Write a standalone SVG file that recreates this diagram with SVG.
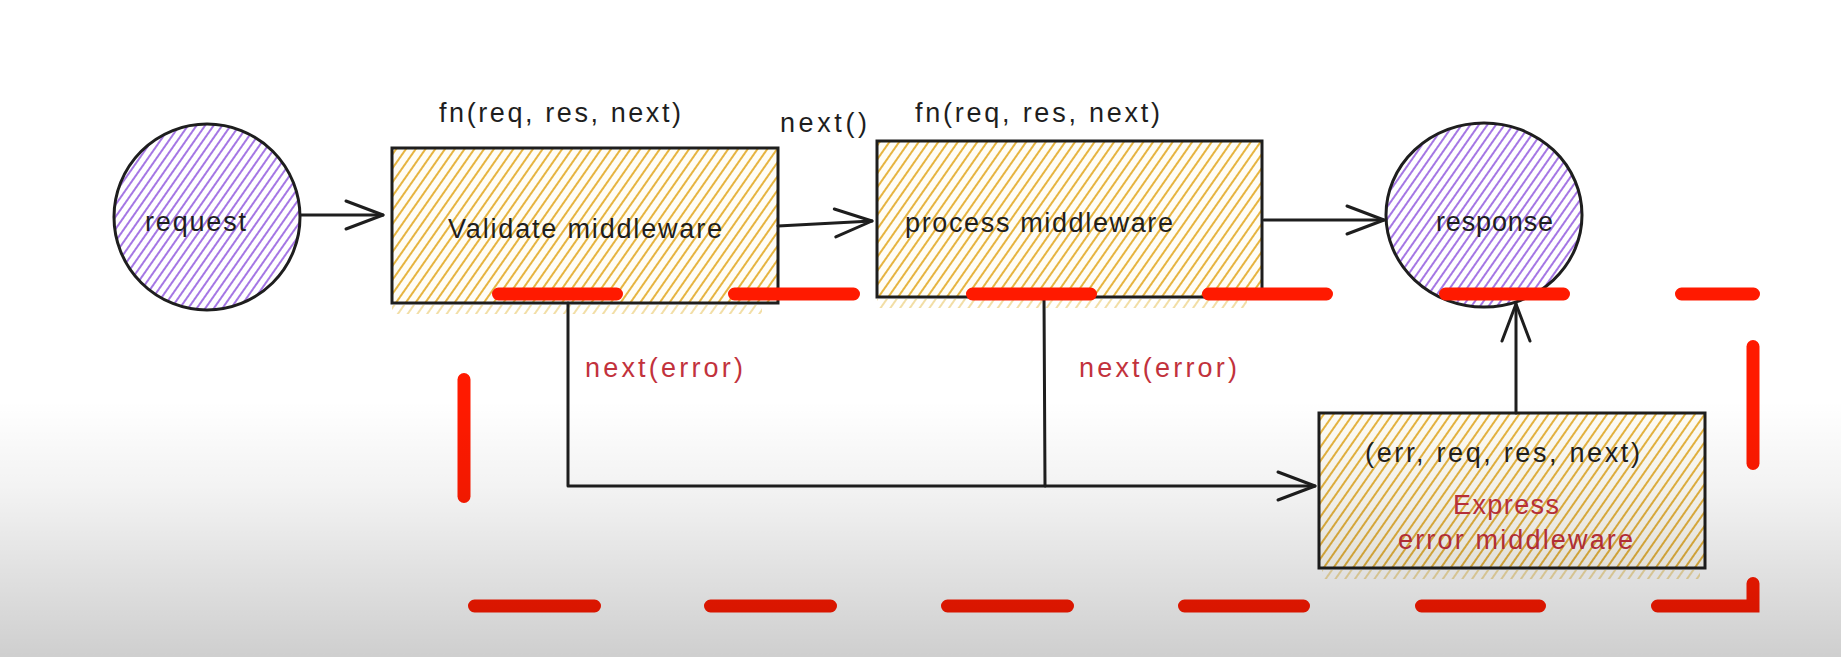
<svg xmlns="http://www.w3.org/2000/svg" width="1841" height="657" viewBox="0 0 1841 657">
  <style>
    .lbl { font-family: "Liberation Sans", "DejaVu Sans", sans-serif; font-size: 27px; fill: #1e1e1e; dominant-baseline: central; }
    .red { fill: #c2323c; }
    .box { stroke: #1e1e1e; stroke-width: 3; }
    .ell { stroke: #1e1e1e; stroke-width: 3; }
    .conn { fill: none; stroke: #1e1e1e; stroke-width: 3; stroke-linecap: round; stroke-linejoin: round; }
    .dash { fill: none; stroke: #ff1a00; stroke-width: 13; stroke-linecap: round; }
  </style>
  <defs>
    <pattern id="hatchY" width="8" height="8" patternUnits="userSpaceOnUse" patternTransform="rotate(35)">
      <rect width="8" height="8" fill="#fffdf6"/>
      <line x1="2" y1="0" x2="2" y2="8" stroke="#e6b440" stroke-width="2"/>
    </pattern>
    <pattern id="hatchYs" width="8" height="8" patternUnits="userSpaceOnUse" patternTransform="rotate(35)">
      <line x1="2" y1="0" x2="2" y2="8" stroke="#e9c45f" stroke-width="1.6"/>
    </pattern>
    <pattern id="hatchP" width="7" height="7" patternUnits="userSpaceOnUse" patternTransform="rotate(35)">
      <rect width="7" height="7" fill="#ffffff"/>
      <line x1="2" y1="0" x2="2" y2="7" stroke="#a577e4" stroke-width="2"/>
    </pattern>
    <marker id="arrow" markerUnits="userSpaceOnUse" markerWidth="46" markerHeight="34" refX="40" refY="16" orient="auto">
      <path d="M3,2 L40,16 L3,30" fill="none" stroke="#1e1e1e" stroke-width="3" stroke-linecap="round" stroke-linejoin="round"/>
    </marker>
    <linearGradient id="shade" x1="0" y1="0" x2="0" y2="1">
      <stop offset="0" stop-color="#000" stop-opacity="0"/>
      <stop offset="0.35" stop-color="#000" stop-opacity="0.05"/>
      <stop offset="1" stop-color="#000" stop-opacity="0.19"/>
    </linearGradient>
  </defs>

  <rect x="0" y="0" width="1841" height="657" fill="#ffffff"/>

  <g id="request">
    <ellipse class="ell" cx="207" cy="217" rx="93" ry="93" fill="url(#hatchP)"/>
    <text class="lbl" x="145" y="222" textLength="101" lengthAdjust="spacing">request</text>
  </g>

  <g id="validate">
    <rect x="392" y="305" width="370" height="9" fill="url(#hatchYs)" opacity="0.7"/>
    <rect class="box" x="392" y="148" width="386" height="155" fill="url(#hatchY)"/>
    <text class="lbl" x="439" y="113" textLength="242" lengthAdjust="spacing">fn(req, res, next)</text>
    <text class="lbl" x="448" y="229" textLength="274" lengthAdjust="spacing">Validate middleware</text>
  </g>

  <g id="process">
    <rect x="877" y="299" width="370" height="9" fill="url(#hatchYs)" opacity="0.7"/>
    <rect class="box" x="877" y="141" width="385" height="156" fill="url(#hatchY)"/>
    <text class="lbl" x="915" y="113" textLength="245" lengthAdjust="spacing">fn(req, res, next)</text>
    <text class="lbl" x="905" y="223" textLength="268" lengthAdjust="spacing">process middleware</text>
  </g>

  <g id="response">
    <ellipse class="ell" cx="1484" cy="215" rx="98" ry="92" fill="url(#hatchP)"/>
    <text class="lbl" x="1436" y="222" textLength="117" lengthAdjust="spacing">response</text>
  </g>

  <g id="error-middleware">
    <rect x="1322" y="570" width="378" height="9" fill="url(#hatchYs)" opacity="0.7"/>
    <rect class="box" x="1319" y="413" width="386" height="155" fill="url(#hatchY)"/>
    <text class="lbl" x="1365" y="453" textLength="275" lengthAdjust="spacing">(err, req, res, next)</text>
    <text class="lbl red" x="1453" y="505" textLength="106" lengthAdjust="spacing">Express</text>
    <text class="lbl red" x="1398" y="540" textLength="235" lengthAdjust="spacing">error middleware</text>
  </g>

  <g id="connectors">
    <path class="conn" d="M301,215 L383,215" marker-end="url(#arrow)"/>
    <path class="conn" d="M778,226 L872,221" marker-end="url(#arrow)"/>
    <path class="conn" d="M1264,220 L1384,220" marker-end="url(#arrow)"/>
    <path class="conn" d="M1516,413 L1516,304" marker-end="url(#arrow)"/>
    <path class="conn" d="M568,303 L568,486 L1315,486" marker-end="url(#arrow)"/>
    <path class="conn" d="M1044,297 L1045,486"/>
    <text class="lbl" x="780" y="123" textLength="87" lengthAdjust="spacing">next()</text>
    <text class="lbl red" x="585" y="368" textLength="158" lengthAdjust="spacing">next(error)</text>
    <text class="lbl red" x="1079" y="368" textLength="158" lengthAdjust="spacing">next(error)</text>
  </g>

  <g id="error-boundary">
    <path class="dash" d="M498.5,294 H616.5 M734.5,294 H853.5 M972.5,294 H1090.5 M1208.5,294 H1326.5 M1445.5,294 H1563.5 M1681.5,294 H1753.5"/>
    <path class="dash" d="M464,379.5 V496.5"/>
    <path class="dash" d="M1753,346.5 V463.5"/>
    <path class="dash" d="M474.5,606 H594.5 M710.5,606 H830.5 M947.5,606 H1067.5 M1184.5,606 H1303.5 M1421.5,606 H1539.5"/>
    <path class="dash" stroke-linejoin="miter" d="M1657.5,606 H1753 V583.5"/>
  </g>

  <rect x="0" y="400" width="1841" height="257" fill="url(#shade)" pointer-events="none"/>
</svg>
